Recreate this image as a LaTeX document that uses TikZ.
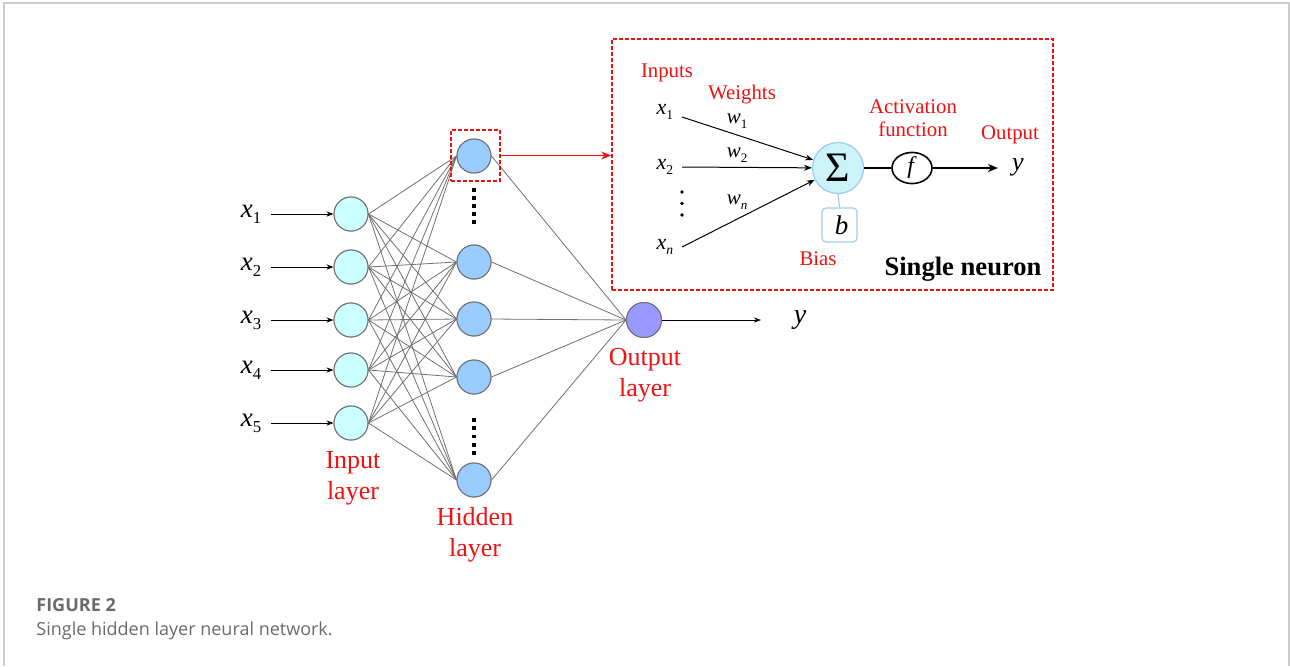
\documentclass[tikz,border=0pt]{standalone}
\usepackage{fontspec}
\usepackage{graphicx}
\setmainfont{Liberation Serif}
\newfontfamily\dserif{Liberation Serif}
\newfontfamily\capfont{Open Sans}
\usetikzlibrary{arrows.meta,shapes.geometric}

\definecolor{labred}{HTML}{F01010}
\definecolor{incyan}{HTML}{CCFFFF}
\definecolor{hidblue}{HTML}{99CCFF}
\definecolor{outviolet}{HTML}{9999FF}
\definecolor{sigfill}{HTML}{CCF2FA}
\definecolor{sigline}{HTML}{99CCEE}
\definecolor{nodeline}{HTML}{707070}
\definecolor{wire}{HTML}{707070}
\definecolor{framegray}{HTML}{CCCCCC}
\definecolor{capgray}{HTML}{6A6A6A}

% italic variable with an upright, lowered index
\newcommand\vsub[2]{\textit{#1}\raisebox{-0.5ex}{\scalebox{0.62}{#2}}}

\begin{document}
\begin{tikzpicture}[x=0.5pt,y=-0.5pt,
  every node/.style={font=\dserif},
  inp/.style={circle,draw=nodeline,line width=0.5pt,fill=incyan,minimum size=17pt,inner sep=0pt},
  hid/.style={circle,draw=nodeline,line width=0.5pt,fill=hidblue,minimum size=17pt,inner sep=0pt},
  outn/.style={circle,draw=nodeline,line width=0.5pt,fill=outviolet,minimum size=17.5pt,inner sep=0pt},
  conn/.style={draw=wire,line width=0.4pt},
  inarrow/.style={draw=black,line width=0.5pt,-{Stealth[length=3.5pt,width=2.6pt]}},
  xlab/.style={inner sep=0pt,font=\dserif\fontsize{13.5}{16}\selectfont},
  layerlab/.style={text=labred,align=center,inner sep=0pt,font=\dserif\fontsize{13}{15.5}\selectfont},
  smalllab/.style={text=labred,align=center,inner sep=0pt,font=\dserif\fontsize{10.4}{11.5}\selectfont},
  nlab/.style={inner sep=0pt,font=\dserif\fontsize{11}{13}\selectfont},
  redbox/.style={draw=labred,line width=0.8pt,dash pattern=on 2pt off 1pt,inner sep=0pt},
  redarrow/.style={draw=labred,line width=0.7pt,-{Stealth[length=5pt,width=4pt]}},
  warrow/.style={draw=black,line width=0.5pt,-{Stealth[length=4pt,width=3pt]}},
  boldline/.style={draw=black,line width=1pt},
  boldarrow/.style={draw=black,line width=1pt,-{Stealth[length=5pt,width=4pt]}},
]
\useasboundingbox (0,0) rectangle (1290,666);
\draw[framegray,line width=0.6pt] (4,666) -- (4,3) -- (1289,3) -- (1289,666);

% input layer with its inputs
\foreach \i/\y in {1/214,2/267,3/320,4/370,5/423}{
  \node[inp] (i\i) at (351,\y) {};
  \node[xlab] (xl\i) at (251,\y) {\vsub{x}{\i}};
  \coordinate (xs\i) at (271,\y);
  \draw[inarrow] (xs\i) -- (i\i.west);
}

% hidden layer
\node[hid] (h1) at (474,156) {};
\node[hid] (h2) at (474,262) {};
\node[hid] (h3) at (474,319) {};
\node[hid] (h4) at (474,377) {};
\node[hid] (h5) at (474,480) {};

% output layer
\node[outn] (o) at (644,320) {};

% full connections
\foreach \i in {1,...,5}{
  \foreach \j in {1,...,5}{
    \draw[conn] (i\i.east) -- (h\j.west);
  }
}
\foreach \j in {1,...,5}{
  \draw[conn] (h\j.east) -- (o.west);
}
% redraw the nodes on top of the wires
\foreach \i/\y in {1/214,2/267,3/320,4/370,5/423}{
  \node[inp] at (351,\y) {};
}
\foreach \y in {156,262,319,377,480}{
  \node[hid] at (474,\y) {};
}
\node[outn] at (644,320) {};

% elided hidden units
\foreach \k in {0,...,4}{
  \fill[black] (472.2,188+\k*8) rectangle ++(3.6,3.6);
  \fill[black] (472.2,418+\k*8.3) rectangle ++(3.6,3.6);
}

% network output
\coordinate (yend) at (761,320);
\draw[inarrow] (o.east) -- (yend);
\node[xlab,font=\dserif\fontsize{14}{16}\selectfont] (yl) at (800,320) {\textit{y}};

% layer names
\node[layerlab] (linp) at (353,478) {Input\\layer};
\node[layerlab] (lhid) at (475,535) {Hidden\\layer};
\node[layerlab] (lout) at (645,375) {Output\\layer};

% zoom onto one hidden unit
\node[redbox,minimum width=24.5pt,minimum height=25.5pt] (hbox) at (475.5,155.5) {};
\node[redbox,minimum width=220.5pt,minimum height=125.5pt] (nbox) at (832.5,164.5) {};
\draw[redarrow] (hbox.east) -- (hbox.east -| nbox.west);

% single neuron
\node[circle,draw=sigline,line width=0.6pt,fill=sigfill,minimum size=25.5pt,inner sep=0pt,
      font=\dserif\fontsize{21}{21}\selectfont] (s) at (838,168) {\raisebox{-0.5pt}{Σ}};
\node[draw=sigline,line width=0.6pt,rounded corners=2pt,minimum width=17.5pt,minimum height=17pt,
      inner sep=0pt,font=\dserif\fontsize{13.5}{14}\selectfont] (bb) at (839.5,225) {\hspace*{2pt}\textit{b}};
\draw[sigline,line width=0.6pt] (s.south) -- (bb.north);
\node[ellipse,draw=black,line width=0.8pt,minimum width=20pt,minimum height=13.5pt,inner sep=0pt,
      font=\dserif\fontsize{12}{12}\selectfont] (fa) at (912,168) {\textit{f}};
\draw[boldline] (s.east) -- (fa.west);
\coordinate (yo) at (998,168);
\draw[boldarrow] (fa.east) -- (yo);
\node[xlab,font=\dserif\fontsize{13}{15}\selectfont] (ny) at (1018,167) {\textit{y}};

\node[nlab] (nx1) at (665,112) {\vsub{x}{1}};
\node[nlab] (nx2) at (665,167) {\vsub{x}{2}};
\node[nlab] (nxn) at (665,247) {\vsub{x}{\textit{n}}};
\coordinate (a1) at (682,117);
\coordinate (a2) at (682,167);
\coordinate (an) at (682,247);
\draw[warrow] (a1) -- (s);
\draw[warrow] (a2) -- (s);
\draw[warrow] (an) -- (s);
\foreach \yy in {192,203.5,215}{
  \fill[black] (682,\yy) circle (1.8);
}
\node[nlab,font=\dserif\fontsize{10.5}{12}\selectfont] (w1) at (737,121) {\vsub{w}{1}};
\node[nlab,font=\dserif\fontsize{10.5}{12}\selectfont] (w2) at (737,155) {\vsub{w}{2}};
\node[nlab,font=\dserif\fontsize{10.5}{12}\selectfont] (wn) at (737,202) {\vsub{w}{\textit{n}}};

\node[smalllab] (tinputs) at (667,73) {Inputs};
\node[smalllab] (tweights) at (742,95) {Weights};
\node[smalllab] (tact) at (913,118) {Activation\\function};
\node[smalllab] (tout) at (1010,135) {Output};
\node[smalllab] (tbias) at (818,259) {Bias};
\node[inner sep=0pt,font=\dserif\fontsize{13.3}{15}\selectfont\bfseries] (tsingle) at (963,269) {Single neuron};

% caption
\node[anchor=base west,inner sep=0pt,text=capgray,font=\capfont\bfseries\fontsize{9}{10}\selectfont] (cap1) at (36,611) {FIGURE 2};
\node[anchor=base west,inner sep=0pt,text=capgray,font=\capfont\fontsize{9}{10}\selectfont] (cap2) at (36,635) {Single hidden layer neural network.};
\end{tikzpicture}
\end{document}
